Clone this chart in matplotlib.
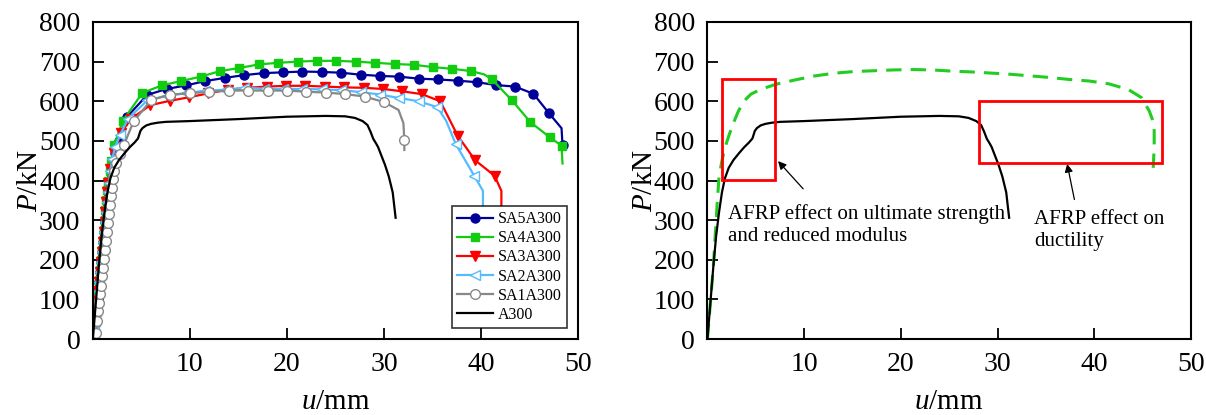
import matplotlib
matplotlib.use("Agg")
import matplotlib.pyplot as plt
from matplotlib.patches import Rectangle

plt.rcParams['font.family'] = ['Liberation Serif', 'DejaVu Serif']
plt.rcParams['mathtext.fontset'] = 'custom'
plt.rcParams['mathtext.rm'] = 'Liberation Serif'
plt.rcParams['mathtext.it'] = 'Liberation Serif:italic'

# ---------------- data (u in mm, P in kN) ----------------
sa5_u = [0.15, 0.25, 0.35, 0.45, 0.55, 0.65, 0.75, 0.85, 0.95, 1.05, 1.15, 1.25, 1.35, 1.45, 1.55,
         1.7, 1.85, 2.05, 2.3, 2.7, 3.5, 5.6, 7.6, 9.6, 11.6, 13.6, 15.6, 17.6, 19.6, 21.6, 23.6,
         25.6, 27.6, 29.6, 31.6, 33.6, 35.6, 37.6, 39.6, 41.5, 43.5, 45.4, 47.0, 48.3, 48.4]
sa5_P = [20, 45, 70, 95, 120, 145, 170, 195, 220, 245, 270, 295, 320, 345, 370,
         395, 420, 445, 470, 500, 560, 616, 631, 640, 651, 659, 666, 671, 673, 675, 674,
         672, 667, 664, 662, 657, 655, 652, 648, 641, 637, 619, 570, 532, 490]

sa4_u = [0.1, 0.2, 0.3, 0.4, 0.5, 0.6, 0.7, 0.8, 0.9, 1.0, 1.1, 1.2, 1.3, 1.4, 1.5, 1.6,
         1.75, 1.9, 2.2, 3.1, 5.1, 7.1, 9.1, 11.1, 13.1, 15.1, 17.1, 19.1, 21.1, 23.1, 25.1,
         27.1, 29.1, 31.1, 33.1, 35.1, 37.0, 39.0, 40.3, 41.1, 43.2, 45.1, 47.1, 48.3, 48.4]
sa4_P = [25, 50, 75, 100, 125, 150, 175, 200, 225, 250, 275, 300, 325, 350, 375, 400,
         425, 450, 490, 551, 621, 640, 651, 662, 676, 684, 693, 697, 700, 702, 702,
         700, 697, 694, 692, 686, 682, 676, 668, 656, 602, 547, 509, 488, 443]

sa3_u = [0.1, 0.2, 0.3, 0.4, 0.5, 0.6, 0.7, 0.8, 0.9, 1.0, 1.1, 1.2, 1.3, 1.4, 1.5, 1.6,
         1.8, 2.2, 2.9, 3.9, 5.9, 7.9, 9.9, 11.9, 13.9, 15.9, 17.9, 19.9, 21.9, 23.9, 25.9,
         27.9, 29.9, 31.9, 33.9, 35.8, 37.6, 39.4, 41.4, 42.1, 42.1]
sa3_P = [20, 45, 70, 95, 120, 145, 170, 195, 220, 245, 270, 295, 320, 345, 370, 395,
         430, 470, 520, 555, 590, 601, 610, 620, 629, 634, 637, 639, 639, 637, 635,
         634, 631, 625, 618, 600, 513, 451, 412, 374, 336]

sa2_u = [0.15, 0.25, 0.35, 0.45, 0.55, 0.65, 0.75, 0.85, 0.95, 1.05, 1.15, 1.25, 1.35, 1.45,
         1.55, 1.65, 1.8, 2.0, 2.3, 2.8, 3.6, 5.6, 7.6, 9.6, 11.6, 13.6, 15.6, 17.6, 19.6,
         21.6, 23.6, 25.6, 27.6, 29.6, 31.6, 33.6, 35.5, 36.4, 37.4, 39.3, 40.2, 40.2]
sa2_P = [20, 45, 70, 95, 120, 145, 170, 195, 220, 245, 270, 295, 320, 345,
         370, 395, 425, 455, 485, 515, 555, 602, 614, 620, 627, 629, 634, 632, 631,
         631, 630, 628, 623, 617, 608, 600, 585, 551, 492, 412, 374, 336]

sa1_u = [0.3, 0.45, 0.55, 0.65, 0.75, 0.85, 0.95, 1.05, 1.15, 1.25, 1.35, 1.45, 1.55, 1.65,
         1.75, 1.85, 1.95, 2.05, 2.2, 2.4, 2.75, 3.2, 4.2, 6.0, 8.0, 10.0, 12.0, 14.0, 16.0,
         18.0, 20.0, 22.0, 24.0, 26.0, 28.0, 30.0, 31.5, 32.0, 32.1, 32.1]
sa1_P = [15, 45, 70, 92, 113, 135, 158, 180, 203, 225, 248, 270, 292, 315,
         338, 360, 382, 404, 425, 445, 467, 490, 549, 603, 617, 620, 624, 627, 627,
         627, 627, 624, 622, 618, 612, 598, 578, 545, 502, 477]

a300_u = [0.0, 0.3, 0.6, 0.9, 1.2, 1.5, 1.8, 2.2, 2.7, 3.3, 3.8, 4.3, 4.65, 4.9, 5.1, 5.5,
          6.0, 6.7, 7.5, 10.0, 15.0, 20.0, 24.0, 26.0, 27.0, 27.8, 28.3, 28.6, 28.9, 29.2,
          29.4, 29.7, 30.1, 30.5, 30.9, 31.2]
a300_P = [0, 90, 180, 260, 320, 370, 405, 432, 452, 470, 484, 496, 506, 525, 532, 539,
          543, 546, 548, 550, 555, 561, 563, 562, 558, 550, 540, 524, 505, 493,
          484, 465, 440, 410, 370, 306]

model_u = [0.0, 0.3, 0.6, 0.8, 1.0, 1.2, 1.5, 1.8, 2.2, 2.6, 3.2, 3.8, 4.5, 5.5, 7.1, 9.1,
           11.1, 13.2, 15.2, 17.2, 19.2, 21.3, 23.3, 25.3, 27.3, 29.4, 31.4, 33.4, 35.4,
           37.4, 39.5, 41.5, 43.5, 44.9, 45.7, 46.0, 46.2, 46.2, 46.1]
model_P = [0, 90, 180, 260, 340, 410, 450, 482, 512, 540, 575, 601, 618, 630, 643, 654,
           664, 671, 675, 677, 679, 680, 679, 676, 674, 671, 668, 664, 660,
           655, 651, 644, 630, 609, 575, 555, 533, 483, 432]

# regions highlighted on the right panel: (u0, P0, u1, P1)
box_strength = (1.55, 402, 6.95, 655)
box_ductility = (28.05, 443, 47.0, 601)

# ---------------- figure ----------------
fig = plt.figure(figsize=(12.06, 4.15), dpi=100)
ax1 = fig.add_axes([0.077, 0.183, 0.4023, 0.764])
ax2 = fig.add_axes([0.5866, 0.183, 0.4009, 0.764])

def marks(n, skip):
    return [i for i in range(n) if i not in skip and (i - n) not in skip]

series = [
    ("SA5A300", sa5_u, sa5_P, "#000099", "o", "#000099", 6.5, [-2]),
    ("SA4A300", sa4_u, sa4_P, "#11cc11", "s", "#11cc11", 6.0, [-7, -1]),
    ("SA3A300", sa3_u, sa3_P, "#ff0000", "v", "#ff0000", 6.5, [-2, -1]),
    ("SA2A300", sa2_u, sa2_P, "#55bbff", "<", "white", 7.0, [-5, -2, -1]),
    ("SA1A300", sa1_u, sa1_P, "#888888", "o", "white", 7.0, [-4, -3, -1]),
]
for lab, u, P, c, m, fc, ms, skip in series:
    ax1.plot(u, P, color=c, lw=1.6, marker=m, ms=ms, mfc=fc, mec=c, mew=1.0,
             markevery=marks(len(u), skip), label=lab)
ax1.plot(a300_u, a300_P, color="black", lw=1.6, label="A300")

leg = ax1.legend(loc="lower right", fontsize=11.5, frameon=True, fancybox=False,
                 edgecolor="black", borderaxespad=0.7, handlelength=2.3,
                 labelspacing=0.2, borderpad=0.3, handletextpad=0.3)
leg.get_frame().set_linewidth(1.2)

ax2.plot(model_u, model_P, color="#22cc22", lw=2.2, dashes=(5, 3))
ax2.plot(a300_u, a300_P, color="black", lw=1.6)

for (u0, p0, u1, p1) in (box_strength, box_ductility):
    ax2.add_patch(Rectangle((u0, p0), u1 - u0, p1 - p0, fill=False,
                            edgecolor="#ff0000", lw=2.0, zorder=5))

ax2.annotate("", xy=(7.3, 449), xytext=(9.9, 379),
             arrowprops=dict(arrowstyle="-|>", color="black", lw=0.9,
                             mutation_scale=12, shrinkA=0, shrinkB=0))
ax2.annotate("", xy=(37.2, 442), xytext=(37.95, 352),
             arrowprops=dict(arrowstyle="-|>", color="black", lw=0.9,
                             mutation_scale=12, shrinkA=0, shrinkB=0))
ax2.text(2.1, 340, "AFRP effect on ultimate strength\nand reduced modulus",
         fontsize=15, va="top", ha="left", linespacing=1.2)
ax2.text(33.8, 326, "AFRP effect on\nductility",
         fontsize=15, va="top", ha="left", linespacing=1.2)

for ax in (ax1, ax2):
    ax.set_xlim(0, 50)
    ax.set_ylim(0, 800)
    ax.set_xticks([10, 20, 30, 40, 50])
    ax.set_yticks(range(0, 801, 100))
    ax.tick_params(direction="in", length=8, width=1.3, labelsize=20, pad=9,
                   top=False, right=False)
    for s in ax.spines.values():
        s.set_linewidth(1.5)
    ax.set_xlabel("$u$/mm", fontsize=21, labelpad=9)
    ax.set_ylabel("$P$/kN", fontsize=21, labelpad=-3)

fig.savefig("out.png", dpi=100)
